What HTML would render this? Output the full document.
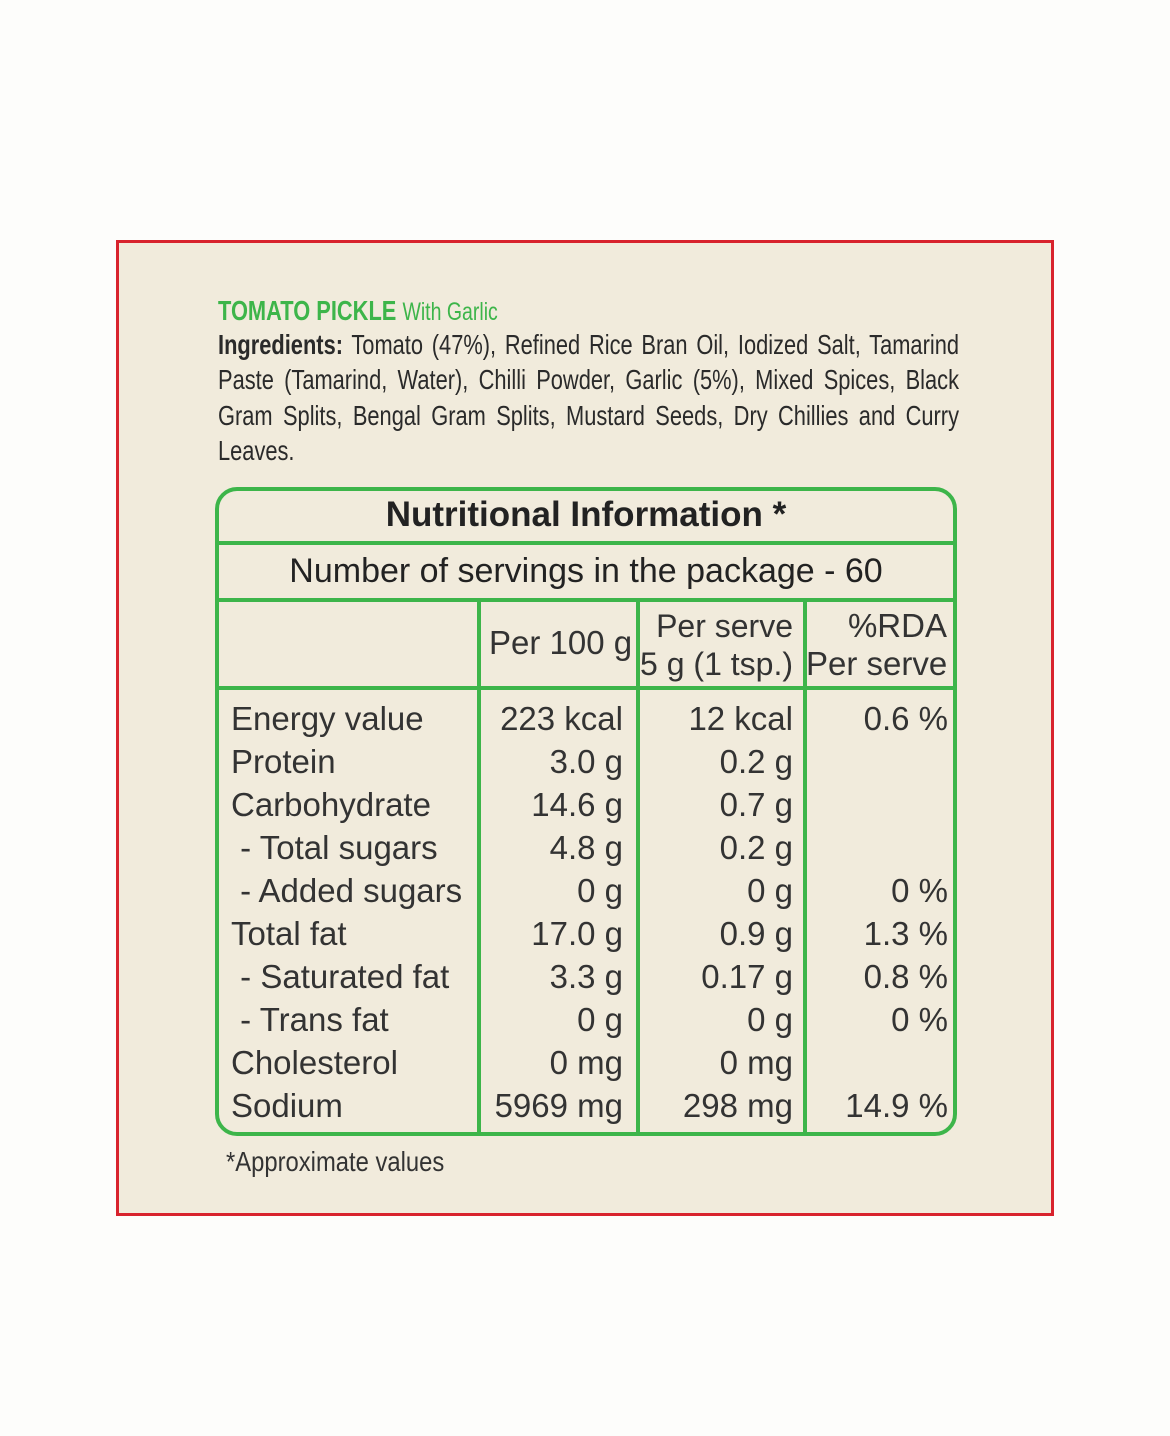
<!DOCTYPE html>
<html><head><meta charset="utf-8"><style>
body{margin:0;width:1170px;height:1436px;background:#fdfdfb;position:relative;overflow:hidden;font-family:"Liberation Sans",sans-serif;color:#2a2a2a}
.box{position:absolute;left:116px;top:240px;width:932px;height:970px;border:3px solid #d8232d;background:#f1ebdc}
.a{position:absolute;white-space:nowrap}
.ing{position:absolute;left:218px;width:950px;transform:scaleX(0.78);transform-origin:0 0;font-size:28px;text-align:justify;text-align-last:justify;color:#2a2a2a}
.g{position:absolute;background:#3db54a}
.r{position:absolute;font-size:33px;color:#333;white-space:nowrap;line-height:43px}
.rt{text-align:right}
</style></head><body>
<div class="box"></div>
<div class="a" style="left:218px;top:295px;transform:scaleX(0.78);transform-origin:0 0;color:#3db54a;font-size:28px"><b>TOMATO PICKLE</b> <span style="font-size:25px">With Garlic</span></div>
<div class="ing" style="top:329px"><b>Ingredients:</b> Tomato (47%), Refined Rice Bran Oil, Iodized Salt, Tamarind</div>
<div class="ing" style="top:364px">Paste (Tamarind, Water), Chilli Powder, Garlic (5%), Mixed Spices, Black</div>
<div class="ing" style="top:400px">Gram Splits, Bengal Gram Splits, Mustard Seeds, Dry Chillies and Curry</div>
<div class="ing" style="top:435px;text-align-last:left">Leaves.</div>

<div style="position:absolute;left:215px;top:487px;width:734px;height:641px;border:4px solid #3db54a;border-radius:22px"></div>
<div class="g" style="left:215px;top:541px;width:742px;height:4px"></div>
<div class="g" style="left:215px;top:598px;width:742px;height:4px"></div>
<div class="g" style="left:215px;top:686px;width:742px;height:4px"></div>
<div class="g" style="left:477px;top:598px;width:4px;height:535px"></div>
<div class="g" style="left:636px;top:598px;width:4px;height:535px"></div>
<div class="g" style="left:803px;top:598px;width:4px;height:535px"></div>

<div class="a" style="left:216px;width:740px;text-align:center;top:495px;font-size:35px;font-weight:bold;color:#222">Nutritional Information *</div>
<div class="a" style="left:216px;width:740px;text-align:center;top:552px;font-size:34px;color:#222">Number of servings in the package - 60</div>
<div class="r" style="left:489px;top:621px">Per 100 g</div>
<div class="r rt" style="left:640px;width:153px;top:607px;line-height:38px;font-size:32px">Per serve<br>5 g (1 tsp.)</div>
<div class="r rt" style="left:806px;width:141px;top:607px;line-height:38px">%RDA<br>Per serve</div>

<div class="r" style="left:231px;top:697px">Energy value<br>Protein<br>Carbohydrate<br>&nbsp;- Total sugars<br>&nbsp;- Added sugars<br>Total fat<br>&nbsp;- Saturated fat<br>&nbsp;- Trans fat<br>Cholesterol<br>Sodium</div>
<div class="r rt" style="left:480px;width:143px;top:697px">223 kcal<br>3.0 g<br>14.6 g<br>4.8 g<br>0 g<br>17.0 g<br>3.3 g<br>0 g<br>0 mg<br>5969 mg</div>
<div class="r rt" style="left:640px;width:153px;top:697px">12 kcal<br>0.2 g<br>0.7 g<br>0.2 g<br>0 g<br>0.9 g<br>0.17 g<br>0 g<br>0 mg<br>298 mg</div>
<div class="r rt" style="left:806px;width:142px;top:697px">0.6 %<br><br><br><br>0 %<br>1.3 %<br>0.8 %<br>0 %<br><br>14.9 %</div>

<div class="a" style="left:226px;top:1146px;font-size:28px;transform:scaleX(0.85);transform-origin:0 0;color:#333">*Approximate values</div>
</body></html>
